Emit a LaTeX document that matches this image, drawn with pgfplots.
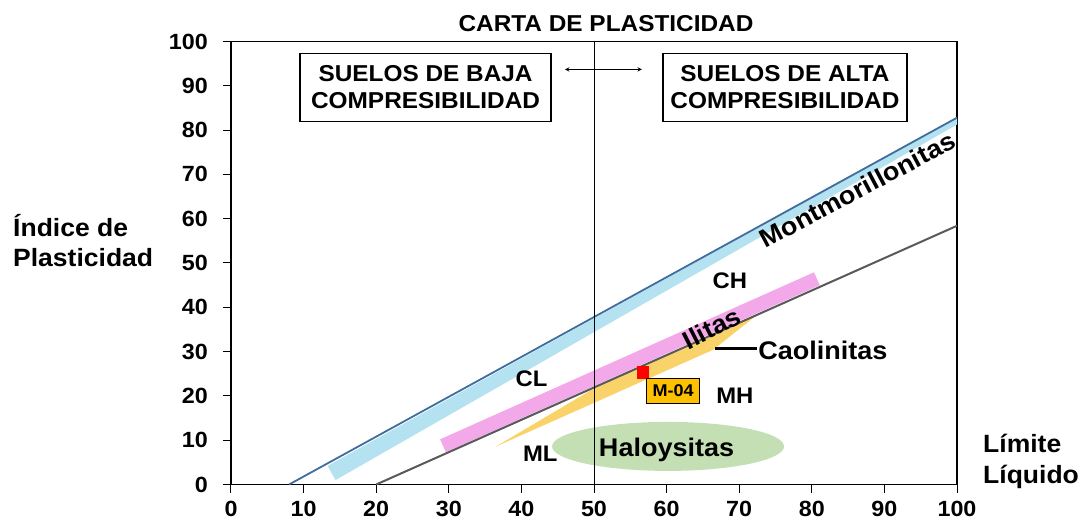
\documentclass[border=0pt]{standalone}
\usepackage{fontspec}
\setmainfont{Liberation Sans}[FakeStretch=1.06]
\usepackage{pgfplots}
\pgfplotsset{compat=1.18}
\definecolor{ubl}{HTML}{3F6D9E}
\definecolor{lbl}{HTML}{B4E2F0}
\definecolor{pnk}{HTML}{F3A8EA}
\definecolor{orb}{HTML}{F9D36A}
\definecolor{gre}{HTML}{C4DFB3}
\definecolor{aln}{HTML}{595959}
\definecolor{mgold}{HTML}{FFC000}
\newcommand\lab{\fontsize{22.5}{25}\selectfont\bfseries}
\newcommand\lbig{\fontsize{25.5}{28}\selectfont\bfseries}
\begin{document}
\begin{tikzpicture}
\path[use as bounding box] (-231pt,-40.5pt) rectangle (856pt,484.5pt);
\begin{axis}[at={(0pt,0pt)}, anchor=south west, scale only axis,
  width=726pt, height=443pt,
  xmin=0, xmax=100, ymin=0, ymax=100,
  xtick={0,10,...,100}, ytick={0,10,...,100},
  tick align=outside, xtick pos=bottom, ytick pos=left,
  major tick length=8pt,
  every tick/.style={black, line width=1pt},
  axis line style={black, line width=1.1pt},
  ticklabel style={font=\fontsize{22}{24}\selectfont\bfseries},
  yticklabel style={inner sep=0pt, xshift=-15pt},
  xticklabel style={inner sep=0pt, yshift=-8pt},
  /pgf/number format/assume math mode=true,
  clip mode=individual]
% bands
\addplot[fill=lbl, draw=none] coordinates {(14.4,1.0) (101,82.2) (101,83.7) (13.3,4.2)} -- cycle;
\addplot[fill=orb, draw=none] coordinates {(36.4,8.5) (50,21.7) (72.4,38.2) (66.4,30.4)} -- cycle;
\addplot[fill=pnk, draw=none] coordinates {(29.6,7.3) (81.1,45.0) (80.3,47.9) (28.8,10.2)} -- cycle;
\fill[gre] (axis cs:60.2,8.6) ellipse [x radius=116pt, y radius=24.5pt];
% lines
\addplot[ubl, line width=1.8pt] coordinates {(8,0) (100,82.8)};
\addplot[aln, line width=2pt] coordinates {(20,0) (100,58.4)};
\addplot[black, line width=1pt] coordinates {(50,0) (50,100)};
% sample
\addplot[only marks, mark=square*, mark size=5.8pt, color=red] coordinates {(56.7,25.3)};
\node[draw=black, line width=0.8pt, fill=mgold, minimum width=53pt, minimum height=25pt, inner sep=0pt, font=\fontsize{17}{17}\selectfont\bfseries] at (axis cs:60.9,21.2) {M-04};
% labels
\node[anchor=base, inner sep=0pt, font=\lab] at (axis cs:68.7,44.3) {CH};
\node[anchor=base, inner sep=0pt, font=\lab] at (axis cs:41.4,22.2) {CL};
\node[anchor=base, inner sep=0pt, font=\lab] at (axis cs:69.4,18.3) {MH};
\node[anchor=base, inner sep=0pt, font=\lab] at (axis cs:42.6,5.1) {ML};
\node[anchor=base, inner sep=0pt, font=\lbig] at (axis cs:60.0,6.3) {Haloysitas};
\draw[line width=3pt] (axis cs:66.7,30.7) -- (axis cs:72.4,30.7);
\node[anchor=base west, inner sep=0pt, font=\lbig] at (axis cs:72.6,28.3) {Caolinitas};
\node[rotate=28, inner sep=0pt, font=\lbig] at (axis cs:86.3,66.6) {Montmorillonitas};
\node[rotate=27, inner sep=0pt, font=\lbig] at (axis cs:66.2,35.3) {Ilitas};
% boxes
\node[draw=black, fill=white, line width=1.2pt, minimum width=251pt, minimum height=68pt, inner sep=0pt, align=center, font=\fontsize{23}{27.7}\selectfont\bfseries] at (axis cs:26.8,89.7) {SUELOS DE BAJA\\COMPRESIBILIDAD};
\node[draw=black, fill=white, line width=1.2pt, minimum width=244pt, minimum height=68pt, inner sep=0pt, align=center, font=\fontsize{23}{27.7}\selectfont\bfseries] at (axis cs:76.3,89.7) {SUELOS DE ALTA\\COMPRESIBILIDAD};
\draw[<->, >=stealth, line width=1pt] (axis cs:46.0,93.7) -- (axis cs:56.6,93.7);
\end{axis}
\node[anchor=base, inner sep=0pt, font=\fontsize{23}{25}\selectfont\bfseries] at (375pt,452.5pt) {CARTA DE PLASTICIDAD};
\node[anchor=base west, inner sep=0pt, font=\fontsize{25}{27}\selectfont\bfseries] at (-218pt,247.5pt) {Índice de};
\node[anchor=base west, inner sep=0pt, font=\fontsize{25}{27}\selectfont\bfseries] at (-218pt,217.5pt) {Plasticidad};
\node[anchor=base west, inner sep=0pt, font=\fontsize{25}{27}\selectfont\bfseries] at (752pt,31.5pt) {Límite};
\node[anchor=base west, inner sep=0pt, font=\fontsize{25}{27}\selectfont\bfseries] at (752pt,1.5pt) {Líquido};
\end{tikzpicture}
\end{document}
